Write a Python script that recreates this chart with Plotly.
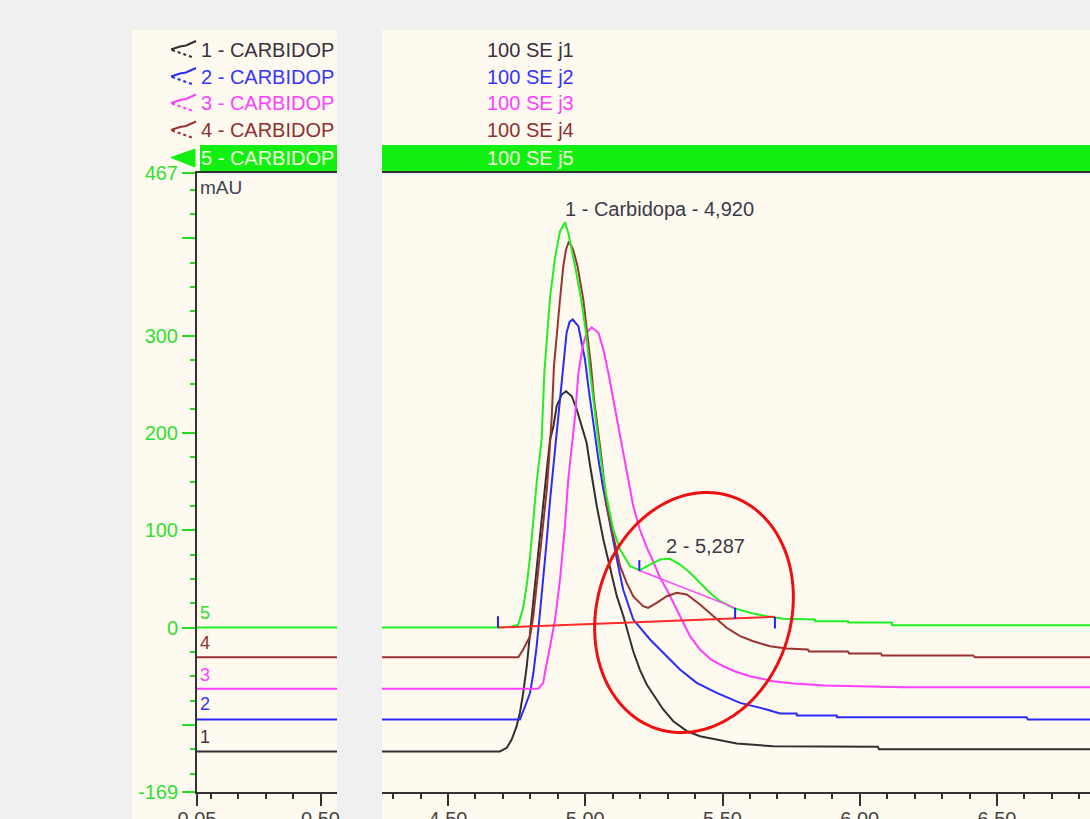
import numpy as np
import plotly.graph_objects as go

# ---------------- data (time in min, signal in mAU) ----------------
trace1 = [(0.0, -127.3), (4.689, -127.3), (4.714, -123.6), (4.732, -115.1), (4.750, -101.4), (4.762, -87.6),
          (4.774, -67.1), (4.787, -39.8), (4.799, -5.4), (4.811, 28.8), (4.823, 59.6), (4.835, 90.4),
          (4.847, 124.6), (4.860, 162.3), (4.872, 193.2), (4.884, 206.8), (4.896, 227.4), (4.914, 239.4),
          (4.930, 242.8), (4.951, 237.6), (4.969, 224.0), (4.987, 206.8), (5.005, 189.8), (5.017, 167.5),
          (5.042, 124.6), (5.066, 90.4), (5.090, 63.0), (5.115, 32.2), (5.139, 11.6), (5.157, -7.2),
          (5.175, -24.7), (5.199, -43.2), (5.224, -58.6), (5.248, -68.8), (5.284, -84.2), (5.321, -96.3),
          (5.370, -106.5), (5.418, -111.7), (5.479, -115.1), (5.552, -119.2), (5.685, -122.0), (6.066, -122.6),
          (6.070, -125.1), (6.839, -125.1)]
trace2 = [(0.0, -94.5), (4.762, -94.5), (4.781, -80.9), (4.799, -67.1), (4.811, -46.5), (4.823, -19.2),
          (4.835, 15.1), (4.847, 49.3), (4.860, 90.4), (4.872, 131.5), (4.886, 172.6), (4.908, 234.3),
          (4.920, 275.4), (4.932, 302.8), (4.943, 314.0), (4.954, 316.5), (4.975, 309.6), (4.987, 292.5),
          (4.999, 275.4), (5.011, 247.9), (5.024, 220.6), (5.036, 193.2), (5.048, 172.6), (5.066, 141.8),
          (5.084, 114.4), (5.102, 90.4), (5.119, 64.7), (5.138, 39.0), (5.175, 8.2), (5.236, -12.3),
          (5.297, -29.5), (5.345, -43.2), (5.406, -56.8), (5.479, -67.1), (5.564, -77.4), (5.661, -84.2),
          (5.709, -88.4), (5.770, -88.4), (5.771, -90.4), (5.916, -90.4), (5.917, -92.2), (6.608, -92.2),
          (6.613, -94.5), (6.839, -94.5)]
trace3 = [(0.0, -63.0), (4.829, -63.0), (4.847, -56.8), (4.853, -46.5), (4.872, -19.2), (4.890, 8.2),
          (4.908, 49.3), (4.926, 104.1), (4.938, 152.1), (4.950, 182.9), (4.963, 217.1), (4.975, 261.7),
          (4.991, 289.0), (5.005, 302.8), (5.023, 308.5), (5.048, 302.8), (5.066, 285.6), (5.084, 261.7),
          (5.102, 234.3), (5.120, 206.8), (5.139, 177.7), (5.151, 159.0), (5.175, 124.6), (5.199, 100.7),
          (5.224, 82.2), (5.248, 67.8), (5.272, 51.4), (5.297, 39.0), (5.327, 21.6), (5.357, 4.8),
          (5.382, -9.2), (5.418, -22.6), (5.458, -32.9), (5.503, -39.8), (5.546, -45.2), (5.600, -50.0),
          (5.685, -55.2), (5.757, -57.5), (5.873, -59.6), (6.158, -61.3), (6.839, -61.3)]
trace4 = [(0.0, -30.5), (4.756, -30.5), (4.774, -22.6), (4.799, -8.9), (4.811, 11.6), (4.823, 42.4),
          (4.835, 76.7), (4.847, 107.6), (4.860, 141.8), (4.868, 172.6), (4.878, 217.1), (4.886, 268.5),
          (4.896, 302.8), (4.908, 337.0), (4.920, 371.2), (4.930, 388.4), (4.941, 396.9), (4.956, 388.4),
          (4.972, 371.2), (4.993, 337.0), (5.007, 302.8), (5.021, 268.5), (5.032, 234.3), (5.048, 200.0),
          (5.060, 172.6), (5.078, 124.6), (5.102, 93.8), (5.127, 63.0), (5.151, 45.9), (5.175, 31.9),
          (5.211, 21.9), (5.229, 20.2), (5.260, 25.4), (5.297, 32.2), (5.333, 35.7), (5.370, 33.9),
          (5.418, 23.6), (5.466, 11.6), (5.515, -0.3), (5.564, -8.9), (5.612, -14.1), (5.673, -19.2),
          (5.734, -21.6), (5.811, -22.6), (5.815, -24.7), (5.957, -24.7), (5.961, -26.7), (6.077, -26.7),
          (6.081, -28.8), (6.413, -28.8), (6.420, -30.5), (6.839, -30.5)]
trace5 = [(0.0, 0.0), (4.689, 0.0), (4.732, 1.0), (4.756, 3.0), (4.774, 20.5), (4.787, 44.0), (4.799, 73.0),
          (4.811, 108.0), (4.823, 149.0), (4.841, 193.0), (4.851, 262.0), (4.872, 340.0), (4.890, 380.0),
          (4.908, 407.0), (4.926, 416.4), (4.938, 405.5), (4.963, 371.2), (4.985, 337.0), (5.003, 302.8),
          (5.015, 268.5), (5.029, 234.3), (5.044, 200.0), (5.057, 172.6), (5.076, 136.6), (5.102, 100.7),
          (5.127, 80.1), (5.163, 63.0), (5.199, 58.9), (5.236, 64.7), (5.272, 69.9), (5.309, 70.6),
          (5.345, 64.7), (5.382, 56.2), (5.418, 45.9), (5.454, 35.7), (5.491, 27.0), (5.539, 20.2),
          (5.600, 15.1), (5.661, 11.6), (5.722, 8.9), (5.837, 8.2), (5.838, 6.5), (5.957, 6.5),
          (5.958, 5.1), (6.117, 5.1), (6.118, 2.4), (6.839, 2.4)]

sample_names = ["1 - CARBIDOP", "2 - CARBIDOP", "3 - CARBIDOP", "4 - CARBIDOP", "5 - CARBIDOP"]
sample_ids = ["100 SE j1", "100 SE j2", "100 SE j3", "100 SE j4", "100 SE j5"]
trace_nums = ["1", "2", "3", "4", "5"]

peak_names = ["1 - Carbidopa - 4,920", "2 - 5,287"]
peak_rt = [4.920, 5.287]
peak_label_y = [430, 84]

# integration markers on chromatogram 5
tick_t = [4.682, 5.197, 5.546, 5.691]
tick_lo = [0.0, 58.0, 8.9, -1.0]
tick_hi = [11.6, 69.3, 20.2, 10.8]
base1_t = [4.682, 5.691]
base1_v = [0.0, 11.0]
base2_t = [5.197, 5.546]
base2_v = [58.6, 20.2]

y_ticks = [-169, -100, 0, 100, 200, 300, 400, 467]
y_ticktext = ["-169", "", "0", "100", "200", "300", "", "467"]
x1_ticks = [0.05, 0.50]
x2_ticks = [4.50, 5.00, 5.50, 6.00, 6.50]

# ---------------- styling / layout ----------------
W, H = 1090, 819
ML, MR, MT, MB = 197, 0, 173, 27
PW, PH = W - ML - MR, H - MT - MB


def px(x):
    return (x - ML) / PW


def py(y):
    return (H - MB - y) / PH


colors = ["#303030", "#2a2aff", "#ff3cff", "#993333", "#22ee22"]
text_colors = ["#3a3040", "#3535ff", "#ff40ff", "#8f3030", "#f2ffdc"]
FONT = "Liberation Sans, Arial, sans-serif"
cream = "#fffaef"
green_band = "#11f011"

fig = go.Figure()
series = [trace1, trace2, trace3, trace4, trace5]
for s, col in zip(series, colors):
    t, v = zip(*s)
    for xa in ("x", "x2"):
        fig.add_trace(go.Scatter(x=list(t), y=list(v), mode="lines", xaxis=xa, yaxis="y",
                                 line=dict(color=col, width=2), hoverinfo="skip"))

# integration baselines and ticks
fig.add_trace(go.Scatter(x=base1_t, y=base1_v, mode="lines", xaxis="x2", yaxis="y",
                         line=dict(color="#ff2a2a", width=2), hoverinfo="skip"))
fig.add_trace(go.Scatter(x=base2_t, y=base2_v, mode="lines", xaxis="x2", yaxis="y",
                         line=dict(color="#ff44ff", width=1.5), hoverinfo="skip"))
tx, ty = [], []
for t, lo, hi in zip(tick_t, tick_lo, tick_hi):
    tx += [t, t, None]
    ty += [lo, hi, None]
fig.add_trace(go.Scatter(x=tx, y=ty, mode="lines", xaxis="x2", yaxis="y",
                         line=dict(color="#2020ff", width=2), hoverinfo="skip"))

x1_range = [0.05, 0.05 + 140 / 274.5]
x2_range = [4.5 - 66 / 274.5, 4.5 + 642 / 274.5]


def minor_vals(lo, hi, step, majors):
    vals = np.round(np.arange(lo, hi + 1e-9, step), 4)
    return [float(v) for v in vals if all(abs(v - m) > 1e-6 for m in majors)]


axis_common = dict(ticks="outside", ticklen=12, tickwidth=2, tickcolor="#333333",
                   showline=True, linecolor="#333333", linewidth=2, mirror=True,
                   showgrid=False, zeroline=False, fixedrange=True, automargin=False,
                   ticklabelstandoff=-4,
                   tickfont=dict(family=FONT, size=20, color="#444444"))

fig.update_layout(
    width=W, height=H, autosize=False,
    margin=dict(l=ML, r=MR, t=MT, b=MB, pad=0, autoexpand=False),
    paper_bgcolor="#f0f0f0", plot_bgcolor=cream,
    showlegend=False,
    font=dict(family=FONT, size=20, color="#444444"),
    xaxis=dict(domain=[0, px(337)], range=x1_range, anchor="y",
               tickmode="array", tickvals=x1_ticks, ticktext=[f"{v:.2f}" for v in x1_ticks],
               minor=dict(tickmode="array", tickvals=minor_vals(0.1, 0.5, 0.1, x1_ticks),
                          ticks="outside", ticklen=5, tickwidth=2, tickcolor="#333333"),
               **axis_common),
    xaxis2=dict(domain=[px(382), 1], range=x2_range, anchor="y",
                tickmode="array", tickvals=x2_ticks, ticktext=[f"{v:.2f}" for v in x2_ticks],
                minor=dict(tickmode="array", tickvals=minor_vals(4.3, 6.8, 0.1, x2_ticks),
                           ticks="outside", ticklen=5, tickwidth=2, tickcolor="#333333"),
                **axis_common),
    yaxis=dict(domain=[0, 1], range=[-169, 467], anchor="x",
               tickmode="array", tickvals=y_ticks, ticktext=y_ticktext,
               ticks="outside", ticklen=13, tickwidth=2, tickcolor="#22dd22",
               showline=True, linecolor="#333333", linewidth=2,
               showgrid=False, zeroline=False, fixedrange=True, automargin=False,
               tickfont=dict(family=FONT, size=20, color="#30e030"),
               minor=dict(tickmode="array", tickvals=minor_vals(-150, 450, 25, y_ticks),
                          ticks="outside", ticklen=5, tickwidth=2, tickcolor="#22dd22")),
)

shapes = []
# panel backgrounds
for x0, x1 in ((132, 337), (382, 1090)):
    shapes.append(dict(type="rect", xref="paper", yref="paper", x0=px(x0), x1=px(x1),
                       y0=py(819), y1=py(30), fillcolor=cream, line=dict(width=0), layer="below"))
# selected sample band
for x0, x1 in ((200, 337), (382, 1090)):
    shapes.append(dict(type="rect", xref="paper", yref="paper", x0=px(x0), x1=px(x1),
                       y0=py(173), y1=py(145), fillcolor=green_band, line=dict(width=0), layer="below"))

row_y = [49.5, 76.5, 103, 130, 158]
# legend icons
for i in range(4):
    yc = row_y[i]
    shapes.append(dict(type="path", xref="paper", yref="paper",
                       path=f"M{px(171)},{py(yc)} L{px(180)},{py(yc-3)} L{px(186)},{py(yc-4)} L{px(196)},{py(yc-8.5)}",
                       line=dict(color=colors[i], width=2)))
    shapes.append(dict(type="line", xref="paper", yref="paper", x0=px(172), y0=py(yc + 0.5),
                       x1=px(192), y1=py(yc + 7.5), line=dict(color=colors[i], width=2, dash="dot")))
shapes.append(dict(type="path", xref="paper", yref="paper",
                   path=f"M{px(171)},{py(157.5)} L{px(195)},{py(149)} L{px(195)},{py(167)} Z",
                   fillcolor=green_band, line=dict(color=green_band, width=1)))

# hand-drawn red ellipse
cx, cy, A, B, phi = 694, 612.5, 122, 97, np.deg2rad(17)
s = np.linspace(0, 2 * np.pi, 120)
ex, ey = B * np.cos(s), A * np.sin(s)
X = cx + ex * np.cos(phi) - ey * np.sin(phi)
Y = cy + ex * np.sin(phi) + ey * np.cos(phi)
path = "M" + " L".join(f"{px(a):.5f},{py(b):.5f}" for a, b in zip(X, Y)) + " Z"
shapes.append(dict(type="path", xref="paper", yref="paper", path=path,
                   line=dict(color="#ee1010", width=3)))
fig.update_layout(shapes=shapes)

ann = []
for i in range(5):
    ann.append(dict(xref="paper", yref="paper", x=px(199), y=py(row_y[i]), text=sample_names[i],
                    xanchor="left", yanchor="middle", showarrow=False,
                    font=dict(family=FONT, size=20, color=text_colors[i])))
    ann.append(dict(xref="paper", yref="paper", x=px(485), y=py(row_y[i]), text=sample_ids[i],
                    xanchor="left", yanchor="middle", showarrow=False,
                    font=dict(family=FONT, size=20, color=text_colors[i])))
# trace numbers at baselines
num_y = [-112, -79, -49, -15.5, 15]
num_col = ["#4a3040", "#3535ff", "#ff40ff", "#8f3030", "#30e030"]
for i in range(5):
    ann.append(dict(xref="x", yref="y", x=0.052, y=num_y[i], text=trace_nums[i],
                    xanchor="left", yanchor="middle", showarrow=False,
                    font=dict(family=FONT, size=18, color=num_col[i])))
ann.append(dict(xref="paper", yref="paper", x=px(198), y=py(188), text="mAU",
                xanchor="left", yanchor="middle", showarrow=False,
                font=dict(family=FONT, size=19, color="#404050")))
for name, rt, yv in zip(peak_names, peak_rt, peak_label_y):
    ann.append(dict(xref="x2", yref="y", x=rt, y=yv, text=name,
                    xanchor="left", yanchor="middle", showarrow=False,
                    font=dict(family=FONT, size=20, color="#3a3a48")))
fig.update_layout(annotations=ann)

fig.write_html("out.html",
               config={"responsive": False, "displayModeBar": False, "staticPlot": True},
               post_script="document.body.style.margin='0';document.body.style.overflow='hidden';")
